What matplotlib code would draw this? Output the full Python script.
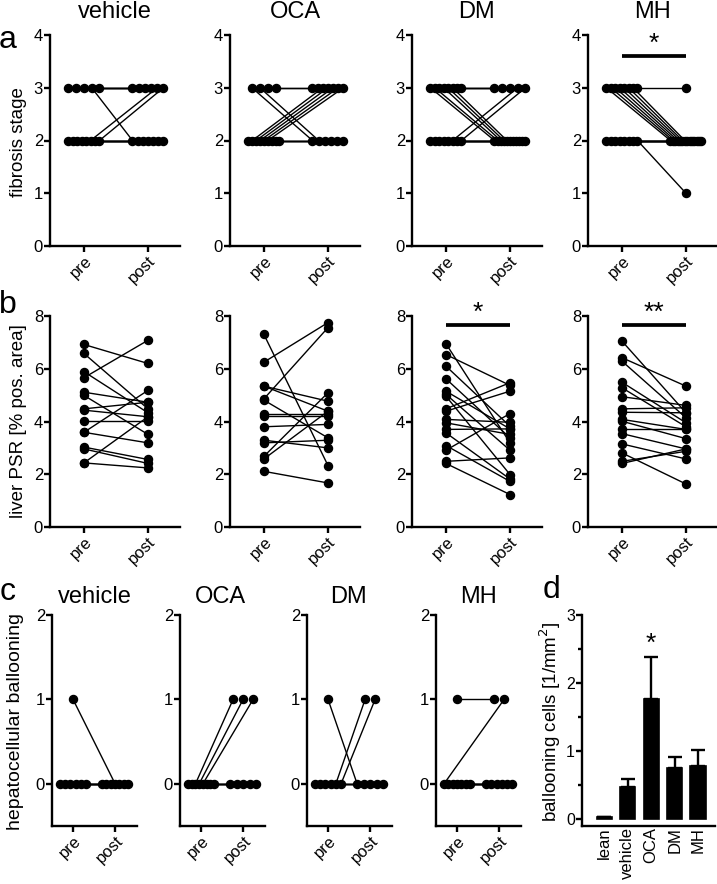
import matplotlib
matplotlib.use('Agg')
import matplotlib.pyplot as plt
import numpy as np

plt.rcParams['font.family'] = ['Liberation Sans', 'DejaVu Sans']

W, H = 717, 884
fig = plt.figure(figsize=(W / 100, H / 100), dpi=100)

groups = ["vehicle", "OCA", "DM", "MH"]
timepoints = ["pre", "post"]

# ---- panel a: fibrosis stage (paired, pre -> post) ----
fib_vehicle_pre = [3, 3, 3, 3, 3, 2, 2, 2, 2, 2, 2, 2, 2]
fib_vehicle_post = [3, 3, 3, 2, 3, 2, 2, 2, 2, 2, 3, 2, 3]
fib_oca_pre = [3, 3, 3, 3, 2, 2, 2, 2, 2, 2, 2, 2, 2]
fib_oca_post = [2, 2, 3, 3, 2, 3, 3, 3, 3, 3, 2, 2, 2]
fib_dm_pre = [3, 3, 3, 3, 3, 3, 3, 3, 2, 2, 2, 2, 2, 2, 2, 2]
fib_dm_post = [2, 2, 3, 2, 2, 2, 3, 3, 2, 2, 2, 2, 2, 3, 2, 3]
fib_mh_pre = [3, 3, 3, 3, 3, 3, 3, 3, 2, 2, 2, 2, 2, 2, 2, 2]
fib_mh_post = [2, 2, 2, 2, 2, 2, 2, 3, 2, 2, 2, 2, 2, 2, 2, 1]

# ---- panel b: liver PSR [% pos. area] ----
psr_vehicle_pre = [6.92, 6.58, 5.89, 5.66, 5.11, 4.99, 4.48, 4.43, 4.01, 3.59, 3.59, 3.03, 2.96, 2.43, 2.43]
psr_vehicle_post = [6.20, 4.48, 4.33, 7.08, 4.73, 3.51, 4.73, 4.18, 4.01, 3.19, 5.18, 2.56, 2.41, 4.18, 2.24]
psr_oca_pre = [7.30, 6.25, 5.34, 5.34, 4.86, 4.81, 4.27, 4.20, 3.80, 3.29, 3.19, 2.68, 2.58, 2.11]
psr_oca_post = [2.33, 7.75, 4.39, 4.77, 7.56, 3.38, 4.27, 4.20, 3.89, 3.00, 3.29, 5.09, 4.39, 1.67]
psr_dm_pre = [6.95, 6.54, 6.10, 5.62, 5.15, 5.03, 4.96, 4.48, 4.39, 4.08, 3.95, 3.70, 3.57, 3.09, 2.91, 2.49, 2.41]
psr_dm_post = [3.19, 5.37, 3.82, 3.38, 3.72, 2.91, 1.99, 5.47, 5.15, 3.97, 3.51, 3.72, 1.82, 1.73, 4.30, 2.62, 1.23]
psr_mh_pre = [7.05, 6.42, 6.29, 5.49, 5.28, 4.94, 4.48, 4.35, 4.08, 4.01, 3.70, 3.54, 3.15, 2.81, 2.49, 2.41]
psr_mh_post = [4.33, 5.34, 4.14, 3.95, 3.80, 4.61, 4.52, 4.33, 3.70, 3.35, 3.70, 2.96, 2.58, 1.63, 2.87, 2.96]

# ---- panel c: hepatocellular ballooning ----
bal_vehicle_pre = [0, 0, 0, 1, 0, 0, 0]
bal_vehicle_post = [0, 0, 0, 0, 0, 0, 0]
bal_oca_pre = [0, 0, 0, 0, 0, 0, 0, 0]
bal_oca_post = [0, 0, 1, 1, 1, 0, 0, 0]
bal_dm_pre = [1, 0, 0, 0, 0, 0, 0]
bal_dm_post = [0, 0, 0, 0, 0, 1, 1]
bal_mh_pre = [1, 0, 0, 0, 0, 0, 0, 0]
bal_mh_post = [1, 1, 0, 0, 0, 0, 0, 0]

# ---- panel d: ballooning cells ----
d_groups = ["lean", "vehicle", "OCA", "DM", "MH"]
d_means = [0.03, 0.47, 1.76, 0.75, 0.78]
d_sem = [0.0, 0.12, 0.63, 0.16, 0.24]

fib_data = [(fib_vehicle_pre, fib_vehicle_post), (fib_oca_pre, fib_oca_post),
            (fib_dm_pre, fib_dm_post), (fib_mh_pre, fib_mh_post)]
psr_data = [(psr_vehicle_pre, psr_vehicle_post), (psr_oca_pre, psr_oca_post),
            (psr_dm_pre, psr_dm_post), (psr_mh_pre, psr_mh_post)]
bal_data = [(bal_vehicle_pre, bal_vehicle_post), (bal_oca_pre, bal_oca_post),
            (bal_dm_pre, bal_dm_post), (bal_mh_pre, bal_mh_post)]

TICK_FS = 12


def add_ax(left, top, width, height):
    return fig.add_axes([left / W, 1 - (top + height) / H, width / W, height / H])


def style(ax):
    for s in ['top', 'right']:
        ax.spines[s].set_visible(False)
    for s in ['left', 'bottom']:
        ax.spines[s].set_linewidth(1.7)
    ax.tick_params(direction='out', length=4, width=1.7, labelsize=TICK_FS, pad=1)
    ax.patch.set_alpha(0)


def spread(values, step_px, width_px, unit_px):
    values = np.asarray(values, float)
    off = np.zeros(len(values))
    for v in np.unique(values):
        idx = np.where(values == v)[0]
        n = len(idx)
        if n > 1:
            s = min(step_px, width_px / (n - 1))
            off[idx] = (np.arange(n) - (n - 1) / 2) * s / unit_px
    return off


def paired(ax, pre, post, width_px, xlim, jitter, step_px=9, span_px=31):
    unit_px = width_px / (xlim[1] - xlim[0])
    if jitter:
        op = spread(pre, step_px, span_px, unit_px)
        oq = spread(post, step_px, span_px, unit_px)
    else:
        op = np.zeros(len(pre))
        oq = np.zeros(len(post))
    for i in range(len(pre)):
        ax.plot([0 + op[i], 1 + oq[i]], [pre[i], post[i]], color='black', lw=1.0, zorder=2,
                solid_capstyle='butt')
    ax.plot(0 + op, pre, 'o', color='black', ms=5.8, zorder=3, clip_on=False)
    ax.plot(1 + oq, post, 'o', color='black', ms=5.8, zorder=3, clip_on=False)
    ax.set_xlim(*xlim)
    ax.set_xticks([0, 1])
    ax.set_xticklabels(timepoints, rotation=45, ha='right', rotation_mode='anchor', fontsize=TICK_FS)


lefts_ab = [50, 230, 412, 588]
lefts_c = [52, 180, 307, 436]

# row a
axes_a = []
for k in range(4):
    ax = add_ax(lefts_ab[k], 35, 130, 211)
    style(ax)
    pre, post = fib_data[k]
    paired(ax, pre, post, 130, (-0.53, 1.5), True, step_px=8, span_px=31)
    ax.set_ylim(0, 4)
    ax.set_yticks([0, 1, 2, 3, 4])
    axes_a.append(ax)

# row b
axes_b = []
for k in range(4):
    ax = add_ax(lefts_ab[k], 316, 130, 211)
    style(ax)
    pre, post = psr_data[k]
    paired(ax, pre, post, 130, (-0.53, 1.5), False)
    ax.set_ylim(0, 8)
    ax.set_yticks([0, 2, 4, 6, 8])
    axes_b.append(ax)

# row c
axes_c = []
for k in range(4):
    ax = add_ax(lefts_c[k], 615, 85, 211)
    style(ax)
    pre, post = bal_data[k]
    paired(ax, pre, post, 85, (-0.5, 1.52), True, step_px=10, span_px=26)
    ax.set_ylim(-0.5, 2)
    ax.set_yticks([0, 1, 2])
    axes_c.append(ax)

# panel d
axd = add_ax(582, 615, 133, 211)
style(axd)
xd = np.arange(len(d_groups))
axd.bar(xd, d_means, width=0.65, color='black', edgecolor='black', linewidth=1.2)
axd.errorbar(xd, d_means, yerr=[np.zeros(len(d_sem)), d_sem], fmt='none', ecolor='black',
             elinewidth=1.7, capsize=5, capthick=1.7)
axd.set_xlim(-0.95, 4.72)
axd.set_ylim(-0.1, 3)
axd.set_yticks([0, 1, 2, 3])
axd.set_yticks([0.5, 1.5, 2.5], minor=True)
axd.tick_params(axis='y', which='minor', length=3, width=1.7)
axd.tick_params(axis='y', labelsize=11.5)
axd.set_xticks(xd)
axd.set_xticklabels(d_groups, rotation=90, fontsize=TICK_FS)
axd.tick_params(axis='x', length=0)
axd.text(2, 2.4, '*', ha='center', va='bottom', fontsize=19)

# significance marks
axes_a[3].plot([0, 1], [3.6, 3.6], color='black', lw=2.7, solid_capstyle='butt')
axes_a[3].text(0.5, 3.6, '*', ha='center', va='bottom', fontsize=19)
for k, lab in [(2, '*'), (3, '**')]:
    axes_b[k].plot([0, 1], [7.64, 7.64], color='black', lw=2.7, solid_capstyle='butt', clip_on=False)
    axes_b[k].text(0.5, 7.68, lab, ha='center', va='bottom', fontsize=19, clip_on=False)

# titles
for k, g in enumerate(groups):
    cx = (lefts_ab[k] + 65) / W
    fig.text(cx, 1 - 12 / H, g, ha='center', va='center', fontsize=17)
for k, g in enumerate(groups):
    cx = [95, 220, 349, 478][k] / W
    fig.text(cx, 1 - 597 / H, g, ha='center', va='center', fontsize=17)

# panel letters
fig.text(8 / W, 1 - 40 / H, 'a', ha='center', va='center', fontsize=23)
fig.text(8 / W, 1 - 305 / H, 'b', ha='center', va='center', fontsize=23)
fig.text(8 / W, 1 - 592 / H, 'c', ha='center', va='center', fontsize=23)
fig.text(551 / W, 1 - 590 / H, 'd', ha='center', va='center', fontsize=23)

# y labels
fig.text(19 / W, 1 - 142 / H, 'fibrosis stage', rotation=90, ha='center', va='center', fontsize=13.5)
fig.text(19 / W, 1 - 421 / H, 'liver PSR [% pos. area]', rotation=90, ha='center', va='center', fontsize=13.5)
fig.text(16 / W, 1 - 722 / H, 'hepatocellular ballooning', rotation=90, ha='center', va='center', fontsize=14)
fig.text(550 / W, 1 - 722 / H, 'ballooning cells [1/mm$^2$]', rotation=90, ha='center', va='center', fontsize=13.5)

fig.savefig('out.png', dpi=100)
